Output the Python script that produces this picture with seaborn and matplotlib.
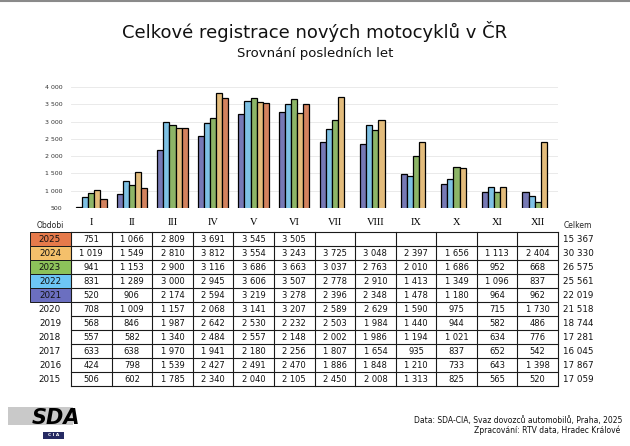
import numpy as np
import pandas as pd
import matplotlib
matplotlib.use("Agg")
import matplotlib.pyplot as plt
import seaborn as sns
from matplotlib.patches import Rectangle

# ---------------------------------------------------
# Daten
# ---------------------------------------------------
months = ["I", "II", "III", "IV", "V", "VI", "VII", "VIII", "IX", "X", "XI", "XII"]
chart_years = ["2021", "2022", "2023", "2024", "2025"]
colors = ["#6b6fc0", "#6dc6f5", "#8cc25a", "#f4c06b", "#e67a4b"]

y2025 = [751, 1066, 2809, 3691, 3545, 3505, None, None, None, None, None, None]
y2024 = [1019, 1549, 2810, 3812, 3554, 3243, 3725, 3048, 2397, 1656, 1113, 2404]
y2023 = [941, 1153, 2900, 3116, 3686, 3663, 3037, 2763, 2010, 1686, 952, 668]
y2022 = [831, 1289, 3000, 2945, 3606, 3507, 2778, 2910, 1413, 1349, 1096, 837]
y2021 = [520, 906, 2174, 2594, 3219, 3278, 2396, 2348, 1478, 1180, 964, 962]
y2020 = [708, 1009, 1157, 2068, 3141, 3207, 2589, 2629, 1590, 975, 715, 1730]
y2019 = [568, 846, 1987, 2642, 2530, 2232, 2503, 1984, 1440, 944, 582, 486]
y2018 = [557, 582, 1340, 2484, 2557, 2148, 2002, 1986, 1194, 1021, 634, 776]
y2017 = [633, 638, 1970, 1941, 2180, 2256, 1807, 1654, 935, 837, 652, 542]
y2016 = [424, 798, 1539, 2427, 2491, 2470, 1886, 1848, 1210, 733, 643, 1398]
y2015 = [506, 602, 1785, 2340, 2040, 2105, 2450, 2008, 1313, 825, 565, 520]

table_years = ["2025", "2024", "2023", "2022", "2021", "2020", "2019", "2018", "2017", "2016", "2015"]
table_rows = [y2025, y2024, y2023, y2022, y2021, y2020, y2019, y2018, y2017, y2016, y2015]
totals = [15367, 30330, 26575, 25561, 22019, 21518, 18744, 17281, 16045, 17867, 17059]

yticks = [500, 1000, 1500, 2000, 2500, 3000, 3500, 4000]


def fmt(v):
    return f"{v:,}".replace(",", " ")


# Long-Format fuer seaborn
series = {"2021": y2021, "2022": y2022, "2023": y2023, "2024": y2024, "2025": y2025}
rows = []
for yr in chart_years:
    for m, v in zip(months, series[yr]):
        rows.append({"month": m, "year": yr, "value": np.nan if v is None else v})
df = pd.DataFrame(rows)

# ---------------------------------------------------
# Figur
# ---------------------------------------------------
W, H = 630, 446
fig = plt.figure(figsize=(W / 100, H / 100), dpi=100)
plt.rcParams["font.family"] = ["DejaVu Sans"]

# Overlay-Achse in Pixelkoordinaten
ov = fig.add_axes([0, 0, 1, 1])
ov.set_xlim(0, W)
ov.set_ylim(H, 0)
ov.axis("off")

# Balkendiagramm
x0, x1 = 71, 558
ytop, ybot = 87, 208
ax = fig.add_axes([x0 / W, 1 - ybot / H, (x1 - x0) / W, (ybot - ytop) / H])
sns.barplot(data=df, x="month", y="value", hue="year", order=months,
            hue_order=chart_years, palette=colors, width=0.75,
            edgecolor="black", linewidth=0.9, legend=False, ax=ax)
ax.set_ylim(500, 4000)
ax.set_xlim(-0.5, 11.5)
ax.set_yticks(yticks)
ax.set_yticklabels([fmt(t) for t in yticks], fontsize=4.5, color="#333333")
ax.tick_params(axis="y", length=0, pad=6)
ax.tick_params(axis="x", length=0, pad=7)
ax.set_xticks(range(12))
ax.set_xticklabels(months, fontsize=7.5, family="Liberation Serif")
ax.grid(axis="y", color="#e6e6e6", linewidth=0.6)
ax.set_axisbelow(True)
for s in ax.spines.values():
    s.set_visible(False)
ax.set_xlabel("")
ax.set_ylabel("")
ax.patch.set_alpha(0)

# Titel
ov.text(W / 2, 32, "Celkové registrace nových motocyklů v ČR", ha="center", va="center",
        fontsize=13, color="#111111")
ov.text(W / 2, 53, "Srovnání posledních let", ha="center", va="center",
        fontsize=9.5, color="#111111")
ov.plot([0, W], [0.6, 0.6], color="#8a8a8a", lw=1.5)

# ---------------------------------------------------
# Tabelle
# ---------------------------------------------------
col_w = (x1 - x0) / 12
row_top = 232
row_h = 14
n_rows = len(table_years)
lc = "#1a1a1a"

ov.text(50, 225, "Obdobi", ha="center", va="center", fontsize=5.5, color="#222222")
ov.text(578, 225, "Celkem", ha="center", va="center", fontsize=5.5, color="#222222")

for i, (yr, vals, tot) in enumerate(zip(table_years, table_rows, totals)):
    yc = row_top + (i + 0.5) * row_h
    if i < 5:
        ov.add_patch(Rectangle((30, row_top + i * row_h), x0 - 30, row_h,
                               facecolor=colors[4 - i], edgecolor=lc, lw=0.7))
    ov.text(50, yc, yr, ha="center", va="center", fontsize=6.3, color="#111111")
    for j, v in enumerate(vals):
        if v is not None:
            ov.text(x0 + (j + 0.5) * col_w, yc, fmt(v), ha="center", va="center",
                    fontsize=6, color="#111111")
    ov.text(578, yc, fmt(tot), ha="center", va="center", fontsize=6.3, color="#111111")

for i in range(n_rows + 1):
    y = row_top + i * row_h
    ov.plot([x0, x1], [y, y], color=lc, lw=0.8)
for j in range(13):
    x = x0 + j * col_w
    ov.plot([x, x], [row_top, row_top + n_rows * row_h], color=lc, lw=0.8)

# ---------------------------------------------------
# Logo und Quelle
# ---------------------------------------------------
ov.add_patch(Rectangle((8, 407), 65, 18, facecolor="#c9c9c9", edgecolor="none"))
ov.text(56, 418, "SDA", ha="center", va="center", fontsize=15, fontweight="bold",
        fontstyle="italic", color="black")
ov.add_patch(Rectangle((43, 432), 21, 7, facecolor="#262a63", edgecolor="none"))
ov.text(53.5, 435.5, "C I A", ha="center", va="center", fontsize=3.2, color="white",
        fontweight="bold")

ov.text(622, 420, "Data: SDA-CIA, Svaz dovozců automobilů, Praha, 2025", ha="right",
        va="center", fontsize=5.5, color="#111111")
ov.text(620, 430, "Zpracování: RTV data, Hradec Králové", ha="right",
        va="center", fontsize=5.5, color="#111111")

fig.savefig("out.png", dpi=100)
